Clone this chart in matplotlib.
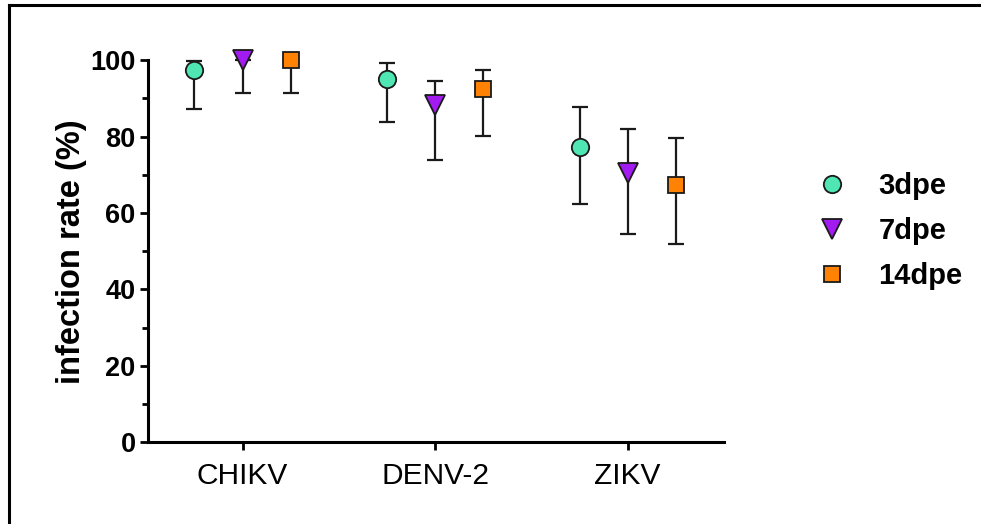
import numpy as np
import matplotlib
matplotlib.use('Agg')
import matplotlib.pyplot as plt
from matplotlib.lines import Line2D
from matplotlib.ticker import MultipleLocator

plt.rcParams['font.family'] = ['Liberation Sans', 'DejaVu Sans']

viruses = ['CHIKV', 'DENV-2', 'ZIKV']
groups = ['3dpe', '7dpe', '14dpe']

rate_3 = [97.5, 95.2, 77.3]
low_3 = [87.3, 83.8, 62.4]
high_3 = [99.7, 99.3, 87.7]

rate_7 = [100, 88.3, 70.6]
low_7 = [91.4, 73.9, 54.4]
high_7 = [100, 94.5, 81.9]

rate_14 = [100, 92.6, 67.4]
low_14 = [91.4, 80.3, 51.8]
high_14 = [100, 97.4, 79.7]

colors = ['#4FE6B4', '#A21BF0', '#FF8204']
markers = ['o', 'v', 's']
msizes = [12.5, 14, 11.5]
offsets = [-0.25, 0, 0.25]

fig = plt.figure(figsize=(9.81, 5.24), dpi=100)
ax = fig.add_axes([0.151, 0.156, 0.587, 0.729])

x = np.arange(len(viruses))
series = [(rate_3, low_3, high_3), (rate_7, low_7, high_7), (rate_14, low_14, high_14)]
for i, (r, lo, hi) in enumerate(series):
    r = np.array(r); lo = np.array(lo); hi = np.array(hi)
    err = [r - lo, hi - r]
    ax.errorbar(x + offsets[i], r, yerr=err, fmt='none', ecolor='#1a1a1a',
                elinewidth=1.6, capsize=5.5, capthick=1.6, zorder=2, clip_on=False)
    ax.plot(x + offsets[i], r, linestyle='none', marker=markers[i], ms=msizes[i],
            mfc=colors[i], mec='#1a1a1a', mew=1.3, zorder=3, clip_on=False,
            label=groups[i])

ax.set_xlim(-0.49, 2.5)
ax.set_ylim(0, 100)
ax.set_xticks(x)
ax.set_xticklabels(viruses, fontsize=21.5)
ax.yaxis.set_major_locator(MultipleLocator(20))
ax.yaxis.set_minor_locator(MultipleLocator(10))
for lab in ax.get_yticklabels():
    lab.set_fontsize(19.5)
    lab.set_fontweight('bold')
ax.set_ylabel('infection rate (%)', fontsize=23.5, fontweight='bold', labelpad=2)

for s in ['top', 'right']:
    ax.spines[s].set_visible(False)
for s in ['left', 'bottom']:
    ax.spines[s].set_linewidth(2.2)
ax.tick_params(axis='both', which='major', length=6, width=2, pad=3)
ax.tick_params(axis='y', which='minor', length=4, width=2)
ax.tick_params(axis='x', pad=8)

leg = ax.legend(loc='center left', bbox_to_anchor=(1.116, 0.553), frameon=False,
                prop={'weight': 'bold', 'size': 21}, handletextpad=0.6,
                labelspacing=0.58, borderaxespad=0)

# frame lines round the figure (only top and left visible)
fig.add_artist(Line2D([9 / 981, 9 / 981], [0, 1 - 5 / 524], color='black', lw=2.2,
                      transform=fig.transFigure))
fig.add_artist(Line2D([9 / 981, 1], [1 - 5 / 524, 1 - 5 / 524], color='black', lw=2.2,
                      transform=fig.transFigure))

fig.savefig('out.png', dpi=100)
